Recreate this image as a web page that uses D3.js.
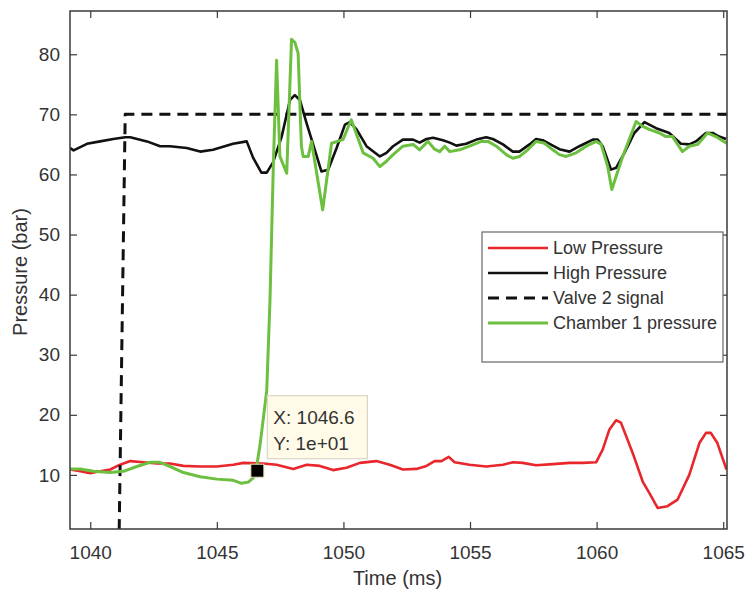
<!DOCTYPE html>
<html>
<head>
<meta charset="utf-8">
<script src="https://cdn.jsdelivr.net/npm/d3@7"></script>
<style>
  html, body { margin: 0; padding: 0; background: #fff; }
  svg { display: block; }
  text { font-family: "Liberation Sans", Arial, sans-serif; fill: #333; }
</style>
</head>
<body>
<svg id="chart" width="748" height="595"></svg>
<script>
// ---------------- data ----------------
const xTicks = [1040, 1045, 1050, 1055, 1060, 1065];
const yTicks = [10, 20, 30, 40, 50, 60, 70, 80];
const seriesNames = ["Low Pressure", "High Pressure", "Valve 2 signal", "Chamber 1 pressure"];

const lowPressure = [
  [1039.21, 10.9], [1039.61, 10.6], [1040.00, 10.3], [1040.39, 10.6], [1040.79, 10.9],
  [1041.18, 11.7], [1041.58, 12.3], [1042.10, 12.1], [1042.63, 11.9], [1043.15, 11.9],
  [1043.68, 11.5], [1044.34, 11.4], [1045.00, 11.4], [1045.65, 11.7], [1046.05, 12.0],
  [1046.83, 11.9], [1047.36, 11.7], [1048.02, 11.0], [1048.55, 11.7], [1049.07, 11.5],
  [1049.59, 10.8], [1050.12, 11.2], [1050.65, 12.0], [1051.30, 12.3], [1051.83, 11.7],
  [1052.35, 10.9], [1052.88, 11.0], [1053.28, 11.5], [1053.60, 12.3], [1053.87, 12.3],
  [1054.16, 13.0], [1054.39, 12.1], [1054.98, 11.7], [1055.64, 11.4], [1056.30, 11.7],
  [1056.69, 12.1], [1057.08, 12.0], [1057.61, 11.6], [1058.27, 11.8], [1058.93, 12.0],
  [1059.45, 12.0], [1059.98, 12.1], [1060.24, 14.2], [1060.50, 17.5], [1060.77, 19.1],
  [1060.96, 18.7], [1061.42, 13.7], [1061.82, 8.9], [1062.08, 7.0], [1062.41, 4.5],
  [1062.80, 4.8], [1063.20, 5.9], [1063.66, 10.0], [1064.06, 15.3], [1064.32, 17.0],
  [1064.51, 17.0], [1064.77, 15.3], [1065.13, 10.9]
];

const highPressure = [
  [1039.21, 64.4], [1039.34, 64.0], [1039.87, 65.1], [1040.39, 65.5], [1040.91, 65.9],
  [1041.38, 66.2], [1041.58, 66.2], [1042.24, 65.5], [1042.76, 64.7], [1043.15, 64.7],
  [1043.81, 64.4], [1044.34, 63.8], [1044.85, 64.1], [1045.64, 65.1], [1046.18, 65.5],
  [1046.43, 62.8], [1046.76, 60.3], [1046.97, 60.3], [1047.22, 62.0], [1047.56, 66.3],
  [1047.89, 72.4], [1048.08, 73.2], [1048.28, 72.4], [1048.54, 68.6], [1048.87, 64.1],
  [1049.13, 60.5], [1049.40, 60.8], [1049.73, 64.4], [1050.06, 68.3], [1050.25, 68.7],
  [1050.52, 67.5], [1050.91, 64.7], [1051.44, 63.0], [1051.70, 63.6], [1051.96, 64.7],
  [1052.35, 65.8], [1052.75, 65.8], [1053.01, 65.3], [1053.28, 65.9], [1053.54, 66.1],
  [1053.93, 65.7], [1054.20, 65.3], [1054.46, 64.8], [1054.85, 65.1], [1055.25, 65.8],
  [1055.64, 66.2], [1055.90, 65.9], [1056.30, 65.0], [1056.69, 63.8], [1056.95, 63.8],
  [1057.35, 65.0], [1057.61, 65.9], [1057.87, 65.7], [1058.27, 64.8], [1058.53, 64.2],
  [1058.93, 63.8], [1059.32, 64.7], [1059.85, 65.8], [1060.04, 65.8], [1060.24, 64.7],
  [1060.57, 60.8], [1060.77, 61.1], [1061.10, 63.6], [1061.49, 66.9], [1061.89, 68.7],
  [1062.08, 68.3], [1062.35, 67.7], [1062.68, 67.2], [1062.87, 66.9], [1063.07, 66.1],
  [1063.33, 65.1], [1063.66, 65.0], [1063.92, 65.5], [1064.32, 66.9], [1064.58, 66.9],
  [1064.84, 66.3], [1065.11, 65.9]
];

const valveSignal = [
  [1039.2, 0], [1041.14, 0], [1041.38, 70], [1065.2, 70]
];

const chamberPressure = [
  [1039.21, 11.0], [1039.61, 11.0], [1040.13, 10.6], [1040.79, 10.4], [1041.31, 10.6],
  [1041.84, 11.4], [1042.37, 12.1], [1042.76, 12.1], [1043.15, 11.4], [1043.68, 10.4],
  [1044.34, 9.7], [1045.00, 9.3], [1045.65, 9.1], [1045.98, 8.6], [1046.24, 8.8],
  [1046.44, 9.5], [1046.57, 11.4], [1046.70, 14.8], [1046.83, 19.2], [1046.97, 24.0],
  [1047.10, 39.2], [1047.23, 61.3], [1047.36, 79.0], [1047.49, 63.0], [1047.76, 60.2],
  [1047.95, 82.5], [1048.08, 82.0], [1048.21, 80.2], [1048.34, 64.7], [1048.41, 63.0],
  [1048.61, 63.0], [1048.74, 65.5], [1049.18, 54.1], [1049.53, 65.2], [1049.98, 65.8],
  [1050.31, 69.1], [1050.78, 63.6], [1051.17, 62.7], [1051.44, 61.3], [1051.70, 62.2],
  [1051.96, 63.3], [1052.35, 64.7], [1052.75, 65.0], [1053.01, 64.1], [1053.34, 65.5],
  [1053.60, 64.2], [1053.80, 63.8], [1054.00, 64.7], [1054.20, 63.8], [1054.59, 64.1],
  [1054.98, 64.7], [1055.45, 65.5], [1055.71, 65.5], [1056.04, 64.7], [1056.43, 63.3],
  [1056.69, 62.7], [1056.96, 63.0], [1057.28, 64.1], [1057.61, 65.5], [1057.94, 65.2],
  [1058.27, 64.1], [1058.53, 63.3], [1058.80, 63.0], [1059.19, 63.6], [1059.59, 64.7],
  [1059.98, 65.5], [1060.18, 65.0], [1060.44, 61.3], [1060.60, 57.5], [1061.03, 63.0],
  [1061.56, 68.8], [1061.82, 68.0], [1062.08, 67.5], [1062.48, 66.9], [1062.74, 66.3],
  [1063.00, 66.3], [1063.39, 63.8], [1063.66, 64.7], [1063.99, 65.0], [1064.38, 66.9],
  [1064.71, 66.3], [1065.13, 65.2]
];

const cursorPoint = [1046.6, 10.7];
const cursorLabels = ["X: 1046.6", "Y: 1e+01"];

// ---------------- layout / style ----------------
const W = 748, H = 595;
const plot = { left: 70, right: 727, top: 11, bottom: 529 };
const xDomain = [1039.2, 1065.15];
const yDomain = [1, 87.2];
const styles = [
  { color: "#e8262b", width: 2.6, dash: null },
  { color: "#111111", width: 2.6, dash: null },
  { color: "#111111", width: 3, dash: "11,7" },
  { color: "#6dbf40", width: 3, dash: null }
];
const seriesData = [lowPressure, highPressure, valveSignal, chamberPressure];

const svg = d3.select("#chart");
const x = d3.scaleLinear().domain(xDomain).range([plot.left, plot.right]);
const y = d3.scaleLinear().domain(yDomain).range([plot.bottom, plot.top]);

svg.append("rect").attr("x", 0).attr("y", 0).attr("width", W).attr("height", H).attr("fill", "#fff");

svg.append("defs").append("clipPath").attr("id", "clip")
  .append("rect")
  .attr("x", plot.left).attr("y", plot.top)
  .attr("width", plot.right - plot.left).attr("height", plot.bottom - plot.top);

const axisColor = "#3a3a3a";
const tickLen = 7;

function styleAxis(g, showText) {
  g.select(".domain").remove();
  g.selectAll(".tick line").attr("stroke", axisColor).attr("stroke-width", 1.2);
  if (!showText) g.selectAll(".tick text").remove();
  else g.selectAll(".tick text")
      .style("font-family", '"Liberation Sans", Arial, sans-serif')
      .style("font-size", "19px").attr("fill", "#333");
}

// bottom axis (inward ticks)
svg.append("g").attr("transform", `translate(0,${plot.bottom})`)
  .call(d3.axisBottom(x).tickValues(xTicks).tickFormat(d3.format("d"))
    .tickSizeInner(-tickLen).tickSizeOuter(0).tickPadding(17))
  .call(g => styleAxis(g, true));
// top axis
svg.append("g").attr("transform", `translate(0,${plot.top})`)
  .call(d3.axisTop(x).tickValues(xTicks).tickSizeInner(-tickLen).tickSizeOuter(0))
  .call(g => styleAxis(g, false));
// left axis
svg.append("g").attr("transform", `translate(${plot.left},0)`)
  .call(d3.axisLeft(y).tickValues(yTicks).tickFormat(d3.format("d"))
    .tickSizeInner(-tickLen).tickSizeOuter(0).tickPadding(10))
  .call(g => styleAxis(g, true));
// right axis
svg.append("g").attr("transform", `translate(${plot.right},0)`)
  .call(d3.axisRight(y).tickValues(yTicks).tickSizeInner(-tickLen).tickSizeOuter(0))
  .call(g => styleAxis(g, false));

// lines
const line = d3.line().x(d => x(d[0])).y(d => y(d[1]));
const lineG = svg.append("g").attr("clip-path", "url(#clip)");
seriesData.forEach((data, i) => {
  const s = styles[i];
  lineG.append("path")
    .datum(data)
    .attr("d", line)
    .attr("fill", "none")
    .attr("stroke", s.color)
    .attr("stroke-width", s.width)
    .attr("stroke-linejoin", "round")
    .attr("stroke-dasharray", s.dash);
});

// axes box
svg.append("rect")
  .attr("x", plot.left).attr("y", plot.top)
  .attr("width", plot.right - plot.left).attr("height", plot.bottom - plot.top)
  .attr("fill", "none").attr("stroke", axisColor).attr("stroke-width", 1.5);

// axis labels
svg.append("text")
  .attr("x", (plot.left + plot.right) / 2 - 1).attr("y", 585)
  .attr("text-anchor", "middle")
  .style("font-size", "20px")
  .text("Time (ms)");
svg.append("text")
  .attr("transform", `translate(27,${(plot.top + plot.bottom) / 2 + 2}) rotate(-90)`)
  .attr("text-anchor", "middle")
  .style("font-size", "20px")
  .text("Pressure (bar)");

// legend
const legend = { x: 482, y: 232, w: 241, h: 130 };
const lg = svg.append("g");
lg.append("rect")
  .attr("x", legend.x).attr("y", legend.y).attr("width", legend.w).attr("height", legend.h)
  .attr("fill", "#fff").attr("stroke", "#666").attr("stroke-width", 1.2);
seriesNames.forEach((name, i) => {
  const cy = legend.y + 16 + i * 25;
  const s = styles[i];
  lg.append("line")
    .attr("x1", legend.x + 6).attr("x2", legend.x + 66)
    .attr("y1", cy).attr("y2", cy)
    .attr("stroke", s.color).attr("stroke-width", s.width)
    .attr("stroke-dasharray", s.dash);
  lg.append("text")
    .attr("x", legend.x + 71).attr("y", cy)
    .attr("dy", "0.35em")
    .style("font-size", "18px")
    .attr("fill", "#222")
    .text(name);
});

// data cursor
const cx = x(cursorPoint[0]), cy = y(cursorPoint[1]);
const tip = svg.append("g");
tip.append("rect")
  .attr("x", cx + 10).attr("y", cy - 75)
  .attr("width", 100).attr("height", 63)
  .attr("fill", "#fffbe8").attr("stroke", "#d9d6c3").attr("stroke-width", 1.2);
cursorLabels.forEach((t, i) => {
  tip.append("text")
    .attr("x", cx + 16).attr("y", cy - 47 + i * 26)
    .style("font-size", "19px")
    .attr("fill", "#222")
    .text(t);
});
tip.append("rect")
  .attr("x", cx - 6.5).attr("y", cy - 6.5)
  .attr("width", 13).attr("height", 13)
  .attr("fill", "#000").attr("stroke", "#e8e3b8").attr("stroke-width", 1);
</script>
</body>
</html>
